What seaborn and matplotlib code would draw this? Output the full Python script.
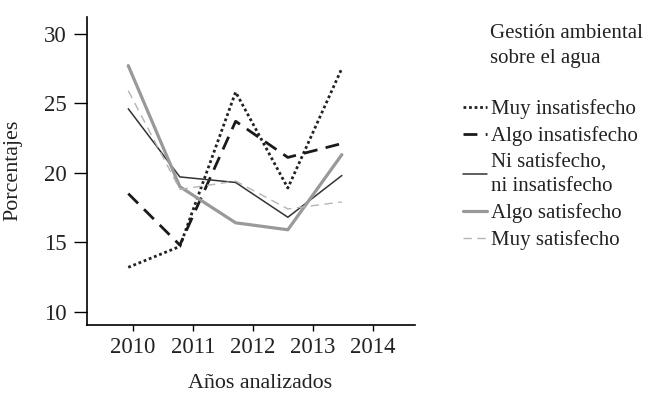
import pandas as pd
import matplotlib
matplotlib.use("Agg")
import matplotlib.pyplot as plt
import seaborn as sns

# data
years = [2009.92, 2010.78, 2011.71, 2012.58, 2013.48]
muy_insatisfecho = [13.2, 14.7, 25.8, 18.9, 27.5]
algo_insatisfecho = [18.5, 14.8, 23.7, 21.1, 22.1]
ni_satisfecho = [24.6, 19.7, 19.3, 16.8, 19.8]
algo_satisfecho = [27.7, 19.0, 16.4, 15.9, 21.3]
muy_satisfecho = [25.9, 18.8, 19.4, 17.4, 17.9]

year_ticks = [2010, 2011, 2012, 2013, 2014]
y_ticks = [10, 15, 20, 25, 30]

series = {
    "Muy insatisfecho": muy_insatisfecho,
    "Algo insatisfecho": algo_insatisfecho,
    "Ni satisfecho,\nni insatisfecho": ni_satisfecho,
    "Algo satisfecho": algo_satisfecho,
    "Muy satisfecho": muy_satisfecho,
}

styles = {
    "Muy insatisfecho": dict(color="#222222", linestyle=(0, (1, 1)), linewidth=2.0),
    "Algo insatisfecho": dict(color="#1a1a1a", linestyle=(0, (5, 3)), linewidth=2.0),
    "Ni satisfecho,\nni insatisfecho": dict(color="#333333", linestyle="-", linewidth=1.1),
    "Algo satisfecho": dict(color="#999999", linestyle="-", linewidth=2.3),
    "Muy satisfecho": dict(color="#b5b5b5", linestyle=(0, (6, 4)), linewidth=1.0),
}

sns.set_style("ticks")
plt.rcParams["font.family"] = ["Liberation Serif", "DejaVu Serif"]
txt = "#222222"

fig = plt.figure(figsize=(6.63, 3.94), dpi=100)
ax = fig.add_axes([0.131, 0.175, 0.495, 0.782])

df = pd.DataFrame({"year": years})
for name, vals in series.items():
    df[name] = vals
    sns.lineplot(data=df, x="year", y=name, ax=ax, label=name, **styles[name])

ax.set_xlim(2009.23, 2014.7)
ax.set_ylim(9.05, 31.2)
ax.set_xticks(year_ticks)
ax.set_yticks(y_ticks)
ax.tick_params(axis="both", labelsize=16.5, width=1, color="black", labelcolor=txt)
ax.tick_params(axis="y", length=9.5, pad=5)
ax.tick_params(axis="x", length=4.5, pad=4)
ax.set_xlabel("Años analizados", fontsize=15.8, color=txt, va="top")
ax.set_ylabel("Porcentajes", fontsize=15.8, color=txt)
ax.xaxis.set_label_coords(260 / 663, 1 - 374 / 394, transform=fig.transFigure)
ax.yaxis.set_label_coords(22 / 663, 1 - 170 / 394, transform=fig.transFigure)
for side in ["top", "right"]:
    ax.spines[side].set_visible(False)
for side in ["left", "bottom"]:
    ax.spines[side].set_color("black")
    ax.spines[side].set_linewidth(1.2)

leg = ax.legend(loc="upper left", bbox_to_anchor=(463 / 663, 1 - 99 / 394), bbox_transform=fig.transFigure,
                frameon=False, fontsize=15, handlelength=1.15, handletextpad=0.2,
                labelspacing=0.35, borderpad=0, borderaxespad=0)
for t in leg.get_texts():
    t.set_color(txt)
    t.set_linespacing(1.3)

fig.text(490 / 663, 1 - 38 / 394, "Gestión ambiental", fontsize=15, color=txt, va="baseline")
fig.text(490 / 663, 1 - 63 / 394, "sobre el agua", fontsize=15, color=txt, va="baseline")

fig.savefig("out.png", dpi=100)
